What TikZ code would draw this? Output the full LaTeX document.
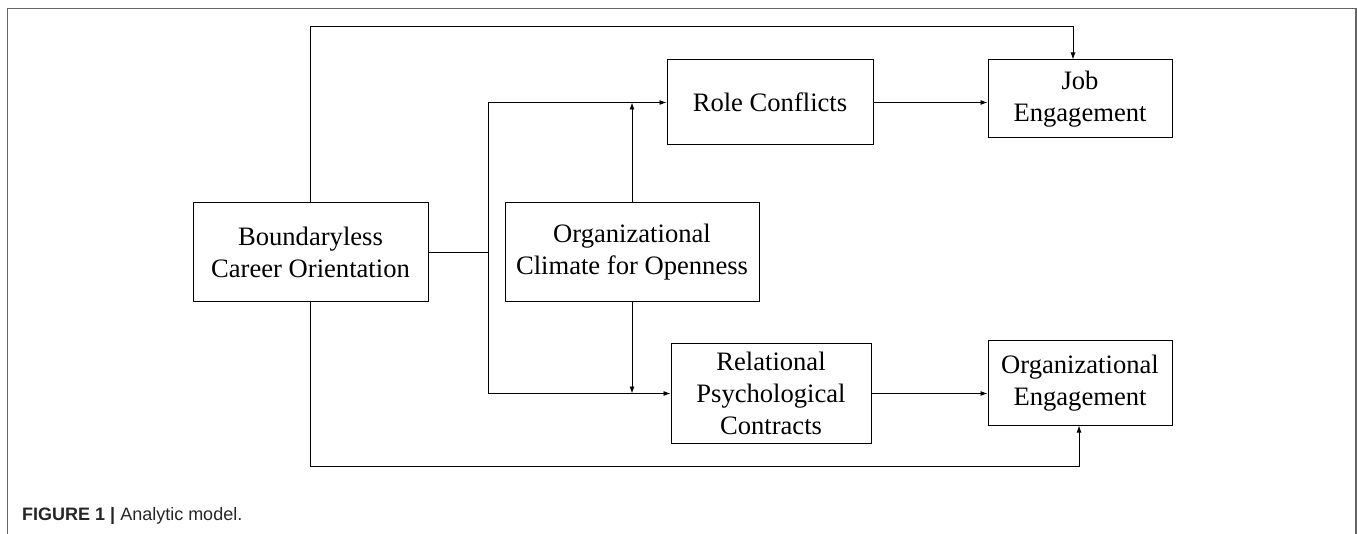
\documentclass[tikz,border=0pt]{standalone}
\usepackage{fontspec}
\setmainfont{Liberation Serif}
\setsansfont{Liberation Sans}
\usepackage{tikz}
\usetikzlibrary{arrows.meta,positioning}

\tikzset{
    factor/.style={draw, line width=1pt, inner sep=0pt, align=center,
        font=\fontsize{26.6}{32}\selectfont},
    link/.style={line width=0.9pt},
    arr/.style={link, -{Latex[length=7pt,width=5pt]}}
}

\begin{document}
\begin{tikzpicture}[x=1pt, y=-1pt]
    \useasboundingbox (0,0) rectangle (1357,534);
    % outer frame
    \draw[line width=1.5pt, black!60] (7.5,540) -- (7.5,8.5) -- (1356,8.5) -- (1356,540);

    % Factors
    \node[factor, minimum width=235pt, minimum height=99pt] (bco) at (310.5,252.5) {Boundaryless\\Career Orientation};
    \node[factor, minimum width=254pt, minimum height=99pt] (occ) at (632,252.5) {Organizational\\Climate for Openness};
    \node[factor, minimum width=206pt, minimum height=85pt] (rc) at (770,102.5) {Role Conflicts};
    \node[factor, minimum width=200pt, minimum height=99pt] (rpc) at (771,393.5) {Relational\\Psychological\\Contracts};
    \node[factor, minimum width=184pt, minimum height=78pt] (je) at (1080,99) {Job\\Engagement};
    \node[factor, minimum width=184pt, minimum height=84pt] (oe) at (1080,383) {Organizational\\Engagement};

    % Links
    \coordinate (split) at (488,252.5);
    \draw[link] (bco.east) -- (split);
    \draw[arr] (split) |- (rc.west);
    \draw[arr] (split) |- (rpc.west);
    \draw[arr] (occ.north) -- (occ.north |- rc.west);
    \draw[arr] (occ.south) -- (occ.south |- rpc.west);
    \draw[arr] (rc.east) -- (je.west |- rc.east);
    \draw[arr] (rpc.east) -- (oe.west |- rpc.east);
    \draw[arr] (bco.north) |- (1073,26) -- ([xshift=-7pt]je.north);
    \draw[arr] (bco.south) |- (1079,466) -- ([xshift=-1pt]oe.south);

    % caption
    \node[anchor=base west, inner sep=0pt, font=\sffamily\fontsize{18}{20}\selectfont, text=black!85] (cap) at (22,520)
        {\textbf{FIGURE 1 |} Analytic model.};
\end{tikzpicture}
\end{document}
